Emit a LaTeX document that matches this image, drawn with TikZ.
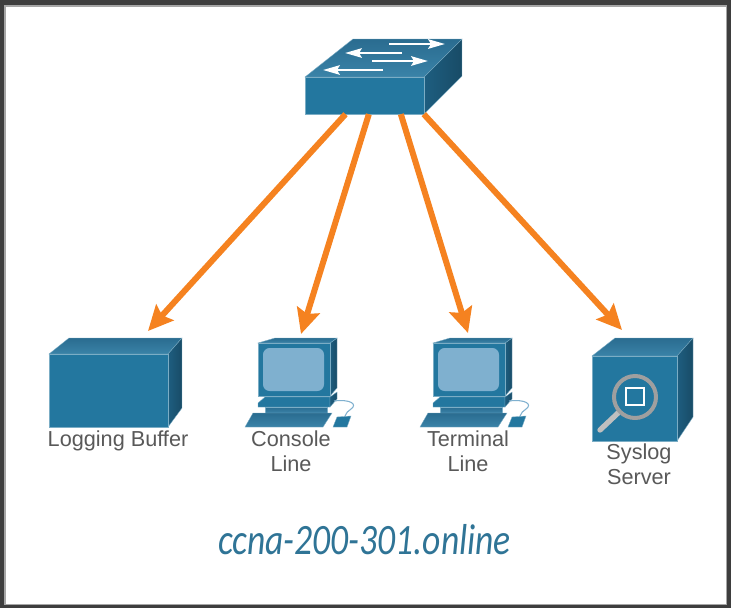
\documentclass[tikz,border=0pt]{standalone}
\usepackage{fontspec}
\setmainfont{Liberation Sans}
\newfontfamily\handfont{Carlito}
\usetikzlibrary{arrows.meta}

\definecolor{frontblue}{HTML}{23779F}
\definecolor{topblue}{HTML}{3A83A8}
\definecolor{topdark}{HTML}{2A6C90}
\definecolor{sideblue}{HTML}{1E5E80}
\definecolor{screenblue}{HTML}{7FB0CF}
\definecolor{linkorange}{HTML}{F58220}
\definecolor{labelgray}{HTML}{595959}
\definecolor{framegray}{HTML}{3E3E3E}
\definecolor{handblue}{HTML}{2F7496}

\begin{document}
\begin{tikzpicture}[x=0.03cm,y=-0.03cm]
\tikzset{%
  >={Stealth[width=7mm,length=7.5mm,inset=1.2mm]},
  % Specifications for style of nodes:
  front/.style = {fill=frontblue, draw=frontblue!60!white, line width=0.3pt},
  topface/.style = {top color=topdark, bottom color=topblue, draw=frontblue!60!white, line width=0.3pt},
  sideface/.style = {left color=sideblue, right color=sideblue!80!black, draw=frontblue!60!white, line width=0.3pt},
  box/.style = {rectangle, inner sep=0pt, front},
  lbl/.style = {text=labelgray, font=\fontsize{18.5}{21}\selectfont, align=center, inner sep=0pt},
  link/.style = {->, draw=linkorange, line width=1.8mm},
  flow/.style = {-{Stealth[width=2.8mm,length=5mm,inset=0.8mm]}, draw=white, line width=0.8mm},
  pc/.pic = {
    \path[sideface] (330,343) -- (337,338) -- (337,388) -- (330,396) -- cycle;
    \path[topface] (258,343) -- (275,338) -- (337,338) -- (330,343) -- cycle;
    \path[front] (258,343) rectangle (330,396);
    \path[fill=screenblue, rounded corners=2mm] (263,348) rectangle (324,391);
    \path[front] (258,403) -- (265,397) -- (330,397) -- (330,407) -- (258,407) -- cycle;
    \path[sideface] (330,397) -- (337,392) -- (337,399) -- (330,407) -- cycle;
    \path[topface] (265,407) rectangle (327,413);
    \draw[screenblue, line width=0.9pt] (334,401) .. controls (350,399) and (358,404) .. (351,409) .. controls (348,411) and (346,413) .. (345,416);
    \path[topface] (245,427) -- (253,413) -- (332,413) -- (323,427) -- cycle;
    \path[front] (333,427) -- (337,417) -- (351,416) -- (347,427) -- cycle;
  },
}
  % frame and page
  \fill[framegray] (0,0) rectangle (731,608);
  \fill[gray!70!white] (4,5) rectangle (727,605);
  \fill[white] (5.5,6.5) rectangle (725.5,603.5);
  \useasboundingbox (0,0) rectangle (731,608);

  % Switch
  \path[topface] (305,77) -- (353,39) -- (462,39) -- (424,77) -- cycle;
  \path[sideface] (424,77) -- (462,39) -- (462,76) -- (424,114) -- cycle;
  \node (switch) [box, minimum width=3.57cm, minimum height=1.11cm] at (364.5,95.5) {};
  \coordinate (flowa) at (389,44);
  \coordinate (flowb) at (445,44);
  \coordinate (flowc) at (402,53);
  \coordinate (flowd) at (345,53);
  \coordinate (flowe) at (372,61);
  \coordinate (flowf) at (428,61);
  \coordinate (flowg) at (383,70);
  \coordinate (flowh) at (323,70);
  \draw[flow] (flowa) -- (flowb);
  \draw[flow] (flowc) -- (flowd);
  \draw[flow] (flowe) -- (flowf);
  \draw[flow] (flowg) -- (flowh);

  % Logging buffer
  \path[topface] (49,354) -- (69,338) -- (182,338) -- (168,354) -- cycle;
  \path[sideface] (168,354) -- (182,338) -- (182,408) -- (168,427) -- cycle;
  \node (buffer) [box, minimum width=3.57cm, minimum height=2.19cm] at (108.5,390.5) {};
  \node (bufferlbl) [lbl] at (118,440.5) {Logging Buffer};

  % Console and terminal
  \pic (console) at (0,0) {pc};
  \node (consolelbl) [lbl] at (291,451.5) {Console\\Line};
  \pic (terminal) at (175,0) {pc};
  \node (terminallbl) [lbl] at (468,451.5) {Terminal\\Line};

  % Syslog server
  \path[topface] (592,356) -- (615,338) -- (693,338) -- (677,356) -- cycle;
  \path[sideface] (677,356) -- (693,338) -- (693,417) -- (677,441) -- cycle;
  \node (server) [box, minimum width=2.55cm, minimum height=2.55cm] at (634.5,398.5) {};
  \draw[gray!50!white, line width=1.6mm, line cap=round] (618,413) -- (600,430);
  \draw[gray!75!white, line width=1.2mm] (635,397) circle (21);
  \draw[white, line width=0.7mm] (626,388) rectangle (644,405);
  \node (serverlbl) [lbl] at (639,464) {Syslog\\Server};

  % Targets of the links
  \coordinate (buffertip) at (148,331);
  \coordinate (consoletip) at (301,334);
  \coordinate (terminaltip) at (468,333);
  \coordinate (servertip) at (622,330);

  \draw[link] ([xshift=-0.57cm]switch.south) -- (buffertip);
  \draw[link] ([xshift=0.13cm]switch.south) -- (consoletip);
  \draw[link] ([xshift=1.09cm]switch.south) -- (terminaltip);
  \draw[link] ([xshift=1.78cm]switch.south) -- (servertip);

  \node (site) [text=handblue, font=\handfont\itshape\fontsize{33}{36}\selectfont, inner sep=0pt, xscale=0.92, yscale=1.12] at (364.5,540) {ccna-200-301.online};
\end{tikzpicture}
\end{document}
